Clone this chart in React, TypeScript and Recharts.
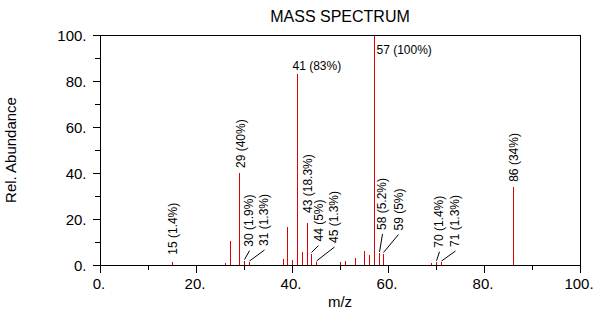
import React from "react";
import { BarChart, Bar, XAxis, YAxis, ReferenceLine } from "recharts";

const massToCharge = [15, 26, 27, 29, 30, 31, 38, 39, 40, 41, 42, 43, 44, 45, 50, 51, 53, 55, 56, 57, 58, 59, 69, 70, 71, 86];
const relAbundance = [1.4, 1.0, 10.5, 40, 1.9, 1.3, 2.5, 16.6, 2.2, 83, 5.8, 18.3, 5, 1.3, 1.4, 1.9, 2.9, 6.2, 4.3, 100, 5.2, 5, 0.7, 1.4, 1.3, 34];
const labeledPeaks = [15, 29, 30, 31, 41, 43, 44, 45, 57, 58, 59, 70, 71, 86];
const xTicks = [0, 10, 20, 30, 40, 50, 60, 70, 80, 90, 100];
const yTicks = [0, 10, 20, 30, 40, 50, 60, 70, 80, 90, 100];

const FONT = '"Liberation Sans", Arial, sans-serif';
const PEAK_RED = "#e00000";

// label placement tweaks (px) for the crowded peaks
const labelLayout: Record<number, { dx?: number; lift?: number; leader?: boolean; flat?: boolean; dy?: number }> = {
  15: { lift: 7 },
  30: { dx: 5, lift: 14, leader: true },
  31: { dx: 15, lift: 16, leader: true },
  41: { flat: true, dx: -5, dy: -4 },
  43: { lift: 10 },
  44: { dx: 7, lift: 12, leader: true },
  45: { dx: 18, lift: 19, leader: true },
  57: { flat: true, dx: 2, dy: 19 },
  58: { dx: 3, lift: 23, leader: true },
  59: { dx: 15, lift: 23, leader: true },
  70: { dx: 3, lift: 14, leader: true },
  71: { dx: 14, lift: 15, leader: true },
};

const data = massToCharge.map((mz, i) => ({ mz, abundance: relAbundance[i] }));

const Peak = (props: any) => {
  const { x, y, width, height, payload } = props;
  const px = Math.round(x + width / 2);
  const cx = px + 0.5;
  const top = y;
  const mz = payload.mz;
  let label = null;
  if (labeledPeaks.includes(mz)) {
    const text = `${mz} (${payload.abundance}%)`;
    const lay = labelLayout[mz] || {};
    if (lay.flat) {
      label = (
        <text x={cx + (lay.dx ?? 0)} y={top + (lay.dy ?? 0)} fontSize={12} fontFamily={FONT} fill="#000">
          {text}
        </text>
      );
    } else {
      const lx = cx + (lay.dx ?? 1);
      const ly = top - (lay.lift ?? 5);
      label = (
        <g>
          {lay.leader && (
            <line x1={cx} y1={top - 1} x2={lx} y2={ly + 4} stroke="#000" strokeWidth={1} />
          )}
          <text
            x={lx}
            y={ly}
            transform={`rotate(-90 ${lx} ${ly})`}
            fontSize={12}
            fontFamily={FONT}
            fill="#000"
            dominantBaseline="central"
          >
            {text}
          </text>
        </g>
      );
    }
  }
  return (
    <g>
      <rect x={px} y={top} width={1} height={Math.max(height, 1)} fill={PEAK_RED} shapeRendering="crispEdges" />
      {label}
    </g>
  );
};

const XTick = (props: any) => {
  const { x, y, payload } = props;
  const major = payload.value % 20 === 0;
  return (
    <g>
      <line x1={x} y1={y} x2={x} y2={y + (major ? 8 : 5)} stroke="#000" shapeRendering="crispEdges" />
      {major && (
        <text x={x - 1} y={y + 24} textAnchor="middle" fontSize={15} fontFamily={FONT} fill="#000">
          {`${payload.value}.`}
        </text>
      )}
    </g>
  );
};

const YTick = (props: any) => {
  const { x, y, payload } = props;
  const major = payload.value % 20 === 0;
  return (
    <g>
      <line x1={x - (major ? 7 : 5)} y1={y} x2={x} y2={y} stroke="#000" shapeRendering="crispEdges" />
      {major && (
        <text x={x - 13.5} y={y} textAnchor="end" dominantBaseline="central" fontSize={15} fontFamily={FONT} fill="#000">
          {`${payload.value}.`}
        </text>
      )}
    </g>
  );
};

const App = () => {
  return (
    <div style={{ position: "absolute", left: 0, top: 0, background: "#fff" }}>
      <BarChart width={597} height={324} data={data} margin={{ top: 35, right: 17, bottom: 0, left: 0 }}>
        <XAxis
          dataKey="mz"
          type="number"
          domain={[0, 100]}
          ticks={xTicks}
          interval={0}
          tickSize={0}
          tickMargin={0}
          tickLine={false}
          tick={<XTick />}
          height={59}
          axisLine={{ stroke: "#000", shapeRendering: "crispEdges" }}
          label={{ value: "m/z", position: "insideBottom", offset: 17, fontSize: 15, fontFamily: FONT, fill: "#000" }}
        />
        <YAxis
          type="number"
          domain={[0, 100]}
          ticks={yTicks}
          interval={0}
          tickSize={0}
          tickMargin={0}
          tickLine={false}
          tick={<YTick />}
          width={100}
          axisLine={{ stroke: "#000", shapeRendering: "crispEdges" }}
          label={{
            content: () => (
              <text
                x={10}
                y={150}
                transform="rotate(-90 10 150)"
                textAnchor="middle"
                dominantBaseline="central"
                fontSize={15}
                fontFamily={FONT}
                fill="#000"
              >
                Rel. Abundance
              </text>
            ),
          }}
        />
        <ReferenceLine
          y={100}
          stroke="#000"
          shapeRendering="crispEdges"
          label={{ value: "MASS SPECTRUM", position: "top", offset: 13, fontSize: 16, fontFamily: FONT, fill: "#000" }}
        />
        <ReferenceLine x={100} stroke="#000" shapeRendering="crispEdges" />
        <Bar dataKey="abundance" barSize={1} isAnimationActive={false} shape={(p: any) => <Peak {...p} />} />
      </BarChart>
    </div>
  );
};

export default App;
